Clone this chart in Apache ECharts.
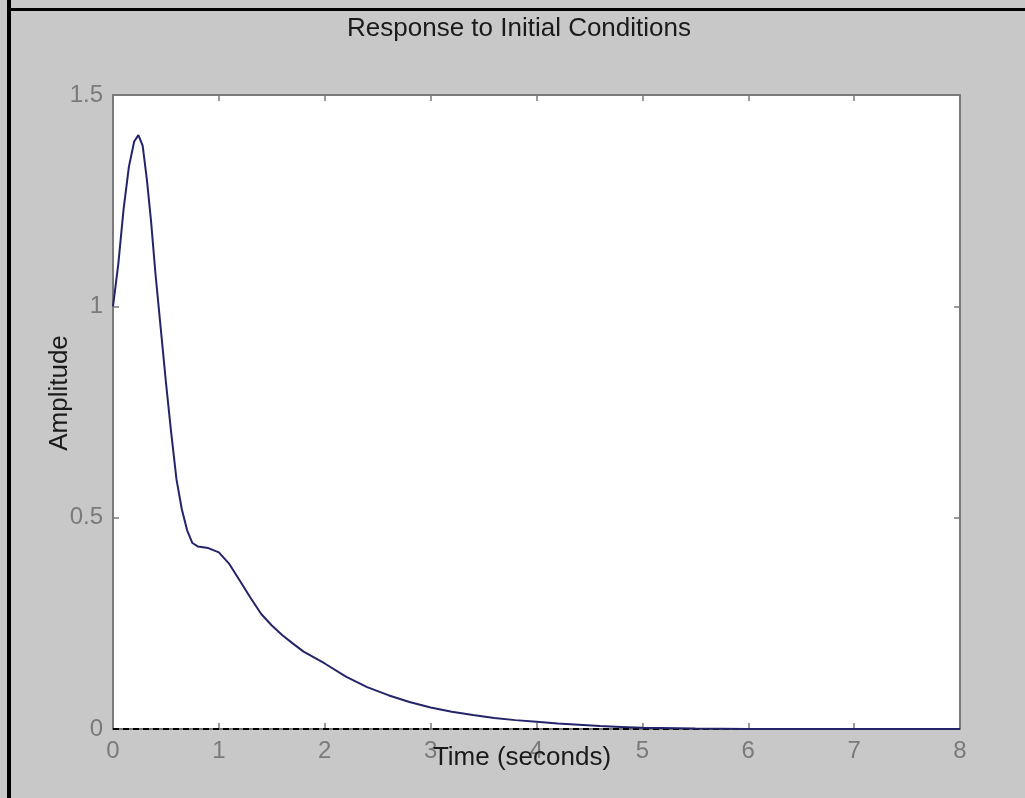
<!DOCTYPE html>
<html>
<head>
<meta charset="utf-8">
<script src="https://cdn.jsdelivr.net/npm/echarts@6/dist/echarts.min.js"></script>
<style>
  html, body { margin: 0; padding: 0; background: #c8c8c8; }
  #chart { width: 1025px; height: 798px; }
</style>
</head>
<body>
<div id="chart"></div>
<script>
// response curve
const timeSec = [0, 0.05, 0.1, 0.15, 0.2, 0.24, 0.28, 0.32, 0.36, 0.4, 0.45, 0.5, 0.55, 0.6, 0.65, 0.7, 0.75,
  0.8, 0.9, 1.0, 1.1, 1.2, 1.3, 1.4, 1.5, 1.6, 1.7, 1.8, 2.0, 2.2, 2.4, 2.6, 2.8, 3.0, 3.2, 3.4, 3.6, 3.8,
  4.0, 4.2, 4.4, 4.6, 4.8, 5.0, 5.5, 6, 7, 8];
const amplitude = [1.0, 1.10, 1.23, 1.33, 1.39, 1.405, 1.38, 1.30, 1.20, 1.08, 0.95, 0.82, 0.70, 0.59, 0.52, 0.47, 0.44,
  0.432, 0.428, 0.418, 0.39, 0.35, 0.31, 0.272, 0.245, 0.222, 0.202, 0.183, 0.155, 0.124, 0.099, 0.080, 0.064, 0.051, 0.041, 0.033, 0.026, 0.021,
  0.017, 0.013, 0.010, 0.007, 0.005, 0.003, 0.001, 0, 0, 0];
const zeroLine = [[0, 0], [8, 0]];

const chart = echarts.init(document.getElementById('chart'));
const gray = '#7a7a7a';
const font = '"Liberation Sans", Arial, sans-serif';
const tickStyle = {show: true, inside: true, length: 6, lineStyle: {color: gray, width: 1.5}};
const lineStyle = {show: true, onZero: false, lineStyle: {color: gray, width: 2}};

chart.setOption({
  backgroundColor: '#c8c8c8',
  animation: false,
  grid: {left: 113, top: 95, right: 65, bottom: 69, show: true, backgroundColor: '#ffffff', borderWidth: 0},
  graphic: [
    {type: 'rect', shape: {x: 7, y: 0, width: 4, height: 798}, style: {fill: '#000'}},
    {type: 'rect', shape: {x: 7, y: 8, width: 1018, height: 3}, style: {fill: '#000'}},
    {type: 'text', style: {text: 'Response to Initial Conditions', x: 519, y: 29,
      font: '26px ' + font, fill: '#1a1a1a', textAlign: 'center', textVerticalAlign: 'middle'}, z: 10},
    {type: 'text', style: {text: 'Time (seconds)', x: 522, y: 758,
      font: '26px ' + font, fill: '#1a1a1a', textAlign: 'center', textVerticalAlign: 'middle'}, z: 10},
    {type: 'text', rotation: Math.PI / 2, x: 60, y: 393, style: {text: 'Amplitude', x: 0, y: 0,
      font: '26px ' + font, fill: '#1a1a1a', textAlign: 'center', textVerticalAlign: 'middle'}, z: 10}
  ],
  xAxis: [
    {type: 'value', min: 0, max: 8, interval: 1, position: 'bottom',
      axisLine: lineStyle, axisTick: tickStyle,
      axisLabel: {color: gray, fontSize: 24, margin: 10, fontFamily: font},
      splitLine: {show: false}},
    {type: 'value', min: 0, max: 8, interval: 1, position: 'top',
      axisLine: lineStyle, axisTick: tickStyle,
      axisLabel: {show: false}, splitLine: {show: false}}
  ],
  yAxis: [
    {type: 'value', min: 0, max: 1.5, interval: 0.5, position: 'left',
      axisLine: lineStyle, axisTick: tickStyle,
      axisLabel: {color: gray, fontSize: 24, margin: 10, fontFamily: font},
      splitLine: {show: false}},
    {type: 'value', min: 0, max: 1.5, interval: 0.5, position: 'right',
      axisLine: lineStyle, axisTick: tickStyle,
      axisLabel: {show: false}, splitLine: {show: false}}
  ],
  series: [
    {type: 'line', data: zeroLine, showSymbol: false, z: 3,
      lineStyle: {color: '#000', width: 2, type: [6, 4]}},
    {type: 'line', data: timeSec.map((t, i) => [t, amplitude[i]]), showSymbol: false, z: 4,
      lineStyle: {color: '#24246a', width: 2}}
  ]
});
</script>
</body>
</html>
